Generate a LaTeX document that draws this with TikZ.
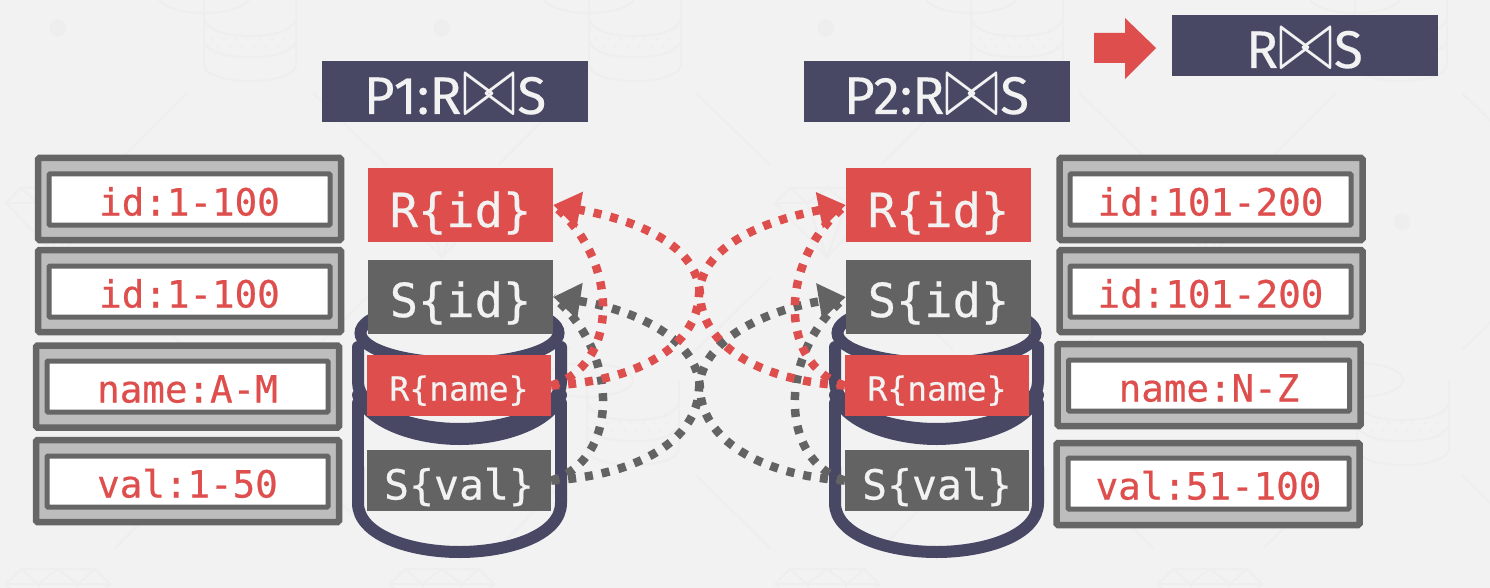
\documentclass[tikz,border=0pt]{standalone}
\usepackage{fontspec}
\usepackage{graphicx}
\usetikzlibrary{arrows.meta}
\setmainfont{Fira Sans}[FakeBold=0.25]
\newfontfamily\monof{DejaVu Sans Mono}[FakeBold=0.5]
\definecolor{bgc}{HTML}{F2F2F2}
\definecolor{wm}{HTML}{EEEEEE}
\definecolor{navy}{HTML}{484865}
\definecolor{redc}{HTML}{DE4E4C}
\definecolor{greyc}{HTML}{636363}
\definecolor{boxg}{HTML}{666666}
\definecolor{boxf}{HTML}{BDBDBD}
\newcommand{\bowt}{\kern0.5pt\raisebox{-0.02em}{\scalebox{3.25}[4.2]{\fontsize{20}{20}\selectfont$\bowtie$}}\kern0.5pt}
\tikzset{
  titlebox/.style={fill=navy,text=bgc,inner sep=0pt,minimum width=266pt,minimum height=61pt,text height=45pt,text depth=0pt,font=\fontsize{53}{53}\selectfont},
  outerbox/.style={draw=boxg,fill=boxf,line width=6.5pt,rounded corners=1.5pt,minimum width=303pt,minimum height=82pt,inner sep=0pt},
  innerbox/.style={draw=boxg,fill=white,line width=5pt,rounded corners=1pt,minimum width=281pt,minimum height=51pt,inner sep=0pt,text=redc,text height=32pt,text depth=0pt,font=\monof\fontsize{37.5}{37.5}\selectfont},
  bigcol/.style={inner sep=0pt,minimum width=185pt,minimum height=74pt,text=bgc,font=\monof\fontsize{47}{47}\selectfont},
  smallcol/.style={inner sep=0pt,minimum width=184pt,minimum height=61pt,text=bgc},
  dotline/.style={line width=8.5pt,dash pattern=on 8pt off 9pt},
  redline/.style={dotline,draw=redc},
  greyline/.style={dotline,draw=greyc},
  redhead/.style={-{Triangle[length=27pt,width=35pt,fill=redc]}},
  greyhead/.style={-{Triangle[length=27pt,width=35pt,fill=greyc]}},
  mark wm/.style={draw=wm,line width=2pt},
  cylline/.style={draw=navy,line width=12pt,line cap=round}
}
\begin{document}
\begin{tikzpicture}[x=1pt,y=-1pt]
\useasboundingbox (0,0) rectangle (1490,588);
\fill[bgc] (0,0) rectangle (1490,588);
% faint background pattern
\begin{scope}
\clip (0,0) rectangle (1490,588);
\foreach \c/\b in {250/0,635/0,1017/0,1401/0,633/384,1403/384}{
  \begin{scope}[shift={(\c,\b)}]
    \draw[mark wm] (-46,-4) ellipse (46 and 17);
    \draw[mark wm] (-46,-4) -- (-46,64) .. controls (-46,75) and (-25,81) .. (0,81) .. controls (25,81) and (46,75) .. (46,64) -- (46,-4);
    \draw[mark wm] (-46,20) .. controls (-40,31) and (-25,36) .. (0,36) .. controls (25,36) and (40,31) .. (46,20);
    \draw[mark wm] (-46,42) .. controls (-40,53) and (-25,57) .. (0,57) .. controls (25,57) and (40,53) .. (46,42);
    \foreach \px in {-38,-26,-14,-2,10,22,34}{
      \fill[wm] (\px,39) circle (1.5);
      \fill[wm] (\px+6,47) circle (1.5);
    }
  \end{scope}
}
\foreach \c/\b in {58/0,442/0,827/0,1210/0,58/381,442/381,827/381,1210/381}{
  \begin{scope}[shift={(\c,\b)}]
    \draw[mark wm] (-52,203) -- (-37,188) -- (37,188) -- (52,203) -- (0,257) -- cycle;
    \draw[mark wm] (-52,203) -- (52,203);
    \draw[mark wm] (-37,188) -- (-20,203) -- (0,188) -- (20,203) -- (37,188);
    \draw[mark wm] (-20,203) -- (0,257) -- (20,203);
  \end{scope}
}
\foreach \s in {0,383,766,1149}{
  \begin{scope}[shift={(\s,0)}]
    \draw[mark wm] (313,93) -- (387,165);
    \draw[mark wm] (187,93) -- (115,165);
    \draw[mark wm] (313,350) -- (387,278);
    \draw[mark wm] (115,278) -- (187,350);
    \draw[mark wm] (313,475) -- (387,548);
    \draw[mark wm] (187,475) -- (115,548);
  \end{scope}
}
\fill[wm] (58,28) circle (8.5);
\fill[wm] (442,28) circle (8.5);
\fill[wm] (826,28) circle (8.5);
\fill[wm] (1210,28) circle (8.5);
\fill[wm] (1402,222) circle (8.5);
\end{scope}
% database cylinders
\foreach \dx in {0,477}{
  \begin{scope}[shift={(\dx,0)}]
    \draw[cylline] (459.5,333) ellipse (99 and 30);
    \draw[cylline] (358,347) -- (358,382) .. controls (358,410) and (410,429) .. (459.5,429) .. controls (509,429) and (561,410) .. (561,382) -- (561,347);
    \draw[cylline] (358,395) .. controls (370,425) and (420,439) .. (459.5,439) .. controls (499,439) and (549,425) .. (561,395);
    \draw[cylline] (358,403) -- (358,465);
    \draw[cylline] (561,403) -- (561,465);
    \draw[cylline] (358,467) -- (358,503) .. controls (358,535) and (410,552) .. (459.5,552) .. controls (509,552) and (561,535) .. (561,503) -- (561,467);
  \end{scope}
}
% title boxes
\node[titlebox] (p1) at (455,91.5) {P1:R\bowt S};
\node[titlebox] (p2) at (936.5,91.5) {P2:R\bowt S};
\node[titlebox] (res) at (1304.5,45.5) {R\bowt S};
\fill[redc] (1094,33) -- (1125,33) -- (1125,18) -- (1156,48) -- (1125,79) -- (1125,63) -- (1094,63) -- cycle;
% left partition boxes
\node[outerbox] (lo1) at (189.5,199) {};
\node[innerbox] (li1) at (189.5,199.5) {id:1-100};
\node[outerbox] (lo2) at (189.5,291) {};
\node[innerbox] (li2) at (189.5,291.5) {id:1-100};
\node[outerbox] (lo3) at (187.5,386.5) {};
\node[innerbox] (li3) at (187.5,386.5) {name:A-M};
\node[outerbox] (lo4) at (187.5,481) {};
\node[innerbox] (li4) at (187.5,481.5) {val:1-50};
% right partition boxes
\node[outerbox] (ro1) at (1211,199) {};
\node[innerbox] (ri1) at (1210.5,199.5) {id:101-200};
\node[outerbox] (ro2) at (1211,291) {};
\node[innerbox] (ri2) at (1210.5,291.5) {id:101-200};
\node[outerbox] (ro3) at (1209,385) {};
\node[innerbox] (ri3) at (1209,385.5) {name:N-Z};
\node[outerbox] (ro4) at (1208,484) {};
\node[innerbox] (ri4) at (1208.5,483.5) {val:51-100};
% column nodes
\node[bigcol,fill=redc,text height=44pt,text depth=0pt] (rid1) at (460.5,205) {R\{id\}};
\node[bigcol,fill=greyc,text height=40pt,text depth=0pt] (sid1) at (460.5,297) {S\{id\}};
\node[smallcol,fill=redc,text height=30pt,text depth=0pt,font=\monof\fontsize{33}{33}\selectfont] (rn1) at (459,385.5) {R\{name\}};
\node[smallcol,fill=greyc,text height=38pt,text depth=0pt,font=\monof\fontsize{41.5}{41.5}\selectfont] (sv1) at (459,480.5) {S\{val\}};
\node[bigcol,fill=redc,text height=44pt,text depth=0pt] (rid2) at (938.5,205) {R\{id\}};
\node[bigcol,fill=greyc,text height=40pt,text depth=0pt] (sid2) at (938.5,297) {S\{id\}};
\node[smallcol,fill=redc,text height=30pt,text depth=0pt,font=\monof\fontsize{33}{33}\selectfont] (rn2) at (937,385.5) {R\{name\}};
\node[smallcol,fill=greyc,text height=38pt,text depth=0pt,font=\monof\fontsize{41.5}{41.5}\selectfont] (sv2) at (937,480.5) {S\{val\}};
% connectors
\draw[greyline] (sv1.east) .. controls (620,460) and (620,352) .. (sid1.east);
\draw[greyline] (sv2.west) .. controls (778,460) and (778,352) .. (sid2.west);
\draw[greyline,greyhead] (sv2.west) .. controls (759,475) and (702,439) .. (700,389) .. controls (698,334) and (625,308) .. (sid1.east);
\draw[greyline,greyhead] (sv1.east) .. controls (640,475) and (697,439) .. (699,389) .. controls (701,334) and (779,308) .. (sid2.west);
\draw[redline] (rn1.east) .. controls (620,365) and (620,260) .. (rid1.east);
\draw[redline] (rn2.west) .. controls (778,365) and (778,260) .. (rid2.west);
\draw[redline,redhead] (rn2.west) .. controls (759,381) and (702,345) .. (700,295) .. controls (698,240) and (625,218) .. (rid1.east);
\draw[redline,redhead] (rn1.east) .. controls (640,381) and (697,345) .. (699,295) .. controls (701,240) and (779,218) .. (rid2.west);
\end{tikzpicture}
\end{document}
